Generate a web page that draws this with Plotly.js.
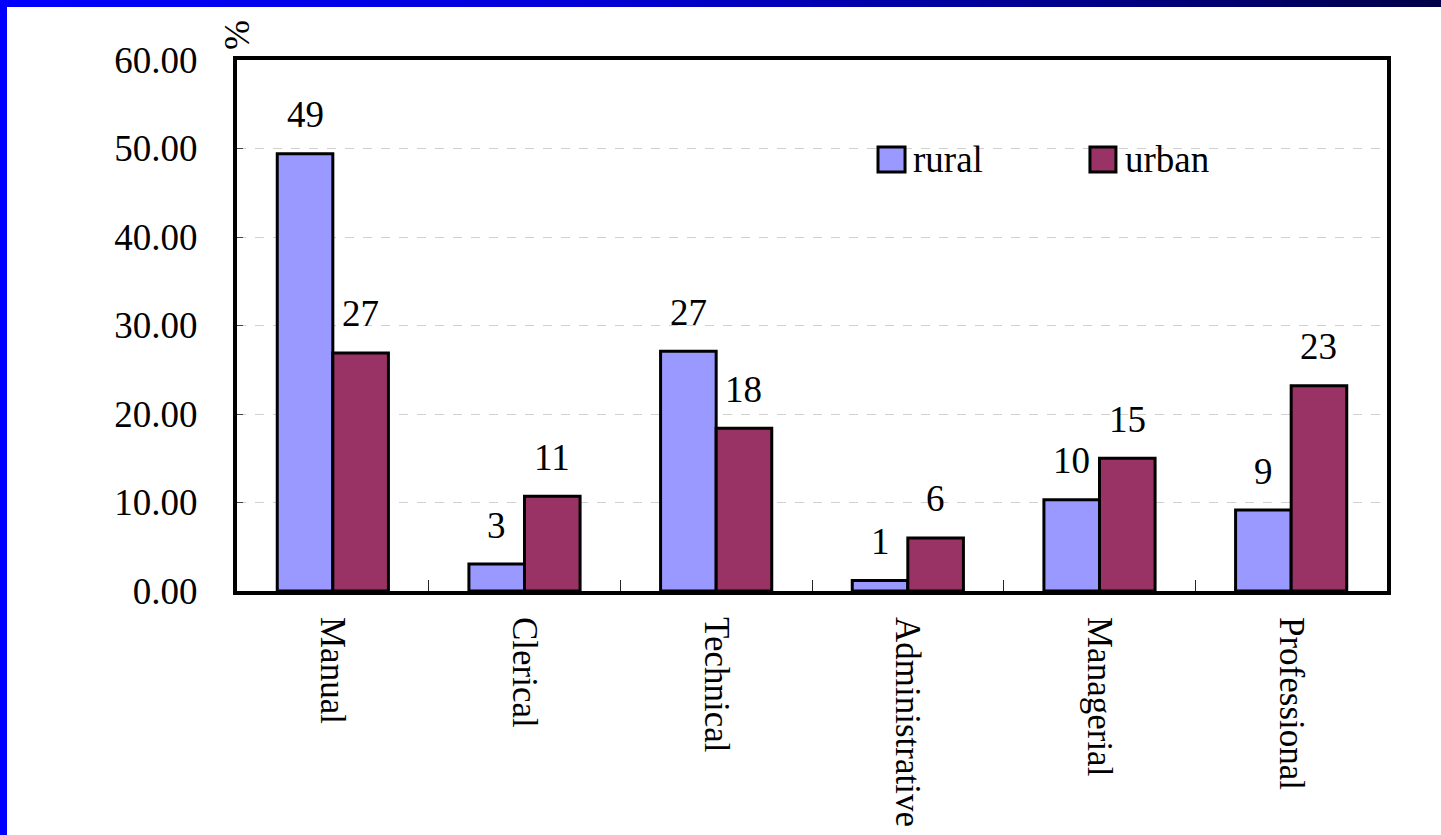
<!DOCTYPE html>
<html>
<head>
<meta charset="utf-8">
<script src="https://cdn.plot.ly/plotly-3.0.1.min.js"></script>
<style>
  html, body { margin: 0; padding: 0; background: #ffffff; }
  #frame { position: relative; width: 1441px; height: 835px; overflow: hidden; background: #ffffff; }
  #topbar { position: absolute; left: 0; top: 0; width: 1441px; height: 7px;
            background: linear-gradient(to right, #0000ff 0%, #0000d8 40%, #00008a 75%, #000048 100%); z-index: 2; }
  #leftbar { position: absolute; left: 0; top: 0; width: 7px; height: 835px; background: #0000ff; z-index: 2; }
  #chart { position: absolute; left: 0; top: 0; width: 1441px; height: 835px; }
</style>
</head>
<body>
<div id="frame">
  <div id="chart"></div>
  <div id="topbar"></div>
  <div id="leftbar"></div>
</div>
<script>
const categories = ["Manual", "Clerical", "Technical", "Administrative", "Managerial", "Professional"];
const seriesNames = ["rural", "urban"];
const ruralValues = [49.4, 3.05, 27.1, 1.2, 10.3, 9.15];
const urbanValues = [26.9, 10.7, 18.4, 6.0, 15.0, 23.2];
const ruralLabels = ["49", "3", "27", "1", "10", "9"];
const urbanLabels = ["27", "11", "18", "6", "15", "23"];
const yTickValues = [0, 10, 20, 30, 40, 50, 60];

const ruralColor = "#9999ff";
const urbanColor = "#993366";
const fontFamily = "'Liberation Serif', 'Times New Roman', serif";
const fontSize = 37;
const xFontSize = 35;

const traces = [
  {
    type: "bar", name: seriesNames[0], x: categories, y: ruralValues,
    marker: { color: ruralColor, line: { color: "#000000", width: 3 } },
    showlegend: false, hoverinfo: "x+y"
  },
  {
    type: "bar", name: seriesNames[1], x: categories, y: urbanValues,
    marker: { color: urbanColor, line: { color: "#000000", width: 3 } },
    showlegend: false, hoverinfo: "x+y"
  }
];

const barOffset = 0.145;
const annotations = [];
categories.forEach((c, i) => {
  annotations.push({ x: i - barOffset, y: ruralValues[i], xref: "x", yref: "y", text: ruralLabels[i],
    showarrow: false, yanchor: "middle", yshift: 39, font: { family: fontFamily, size: fontSize, color: "#000" } });
  annotations.push({ x: i + barOffset, y: urbanValues[i], xref: "x", yref: "y", text: urbanLabels[i],
    showarrow: false, yanchor: "middle", yshift: 39, font: { family: fontFamily, size: fontSize, color: "#000" } });
});
// y-axis unit
annotations.push({ x: 0, y: 1.047, xref: "paper", yref: "paper", text: "%", textangle: -90,
  showarrow: false, xanchor: "center", yanchor: "middle", font: { family: fontFamily, size: 36, color: "#000" } });
// legend texts
annotations.push({ x: 0.586, y: 0.8117, xref: "paper", yref: "paper", text: seriesNames[0],
  showarrow: false, xanchor: "left", yanchor: "middle", font: { family: fontFamily, size: fontSize, color: "#000" } });
annotations.push({ x: 0.7705, y: 0.8117, xref: "paper", yref: "paper", text: seriesNames[1],
  showarrow: false, xanchor: "left", yanchor: "middle", font: { family: fontFamily, size: fontSize, color: "#000" } });

const shapes = [
  { type: "rect", xref: "paper", yref: "paper", x0: 0.5087, x1: 0.8939, y0: 0.783, y1: 0.859,
    fillcolor: "#ffffff", line: { width: 0 }, layer: "between" },
  { type: "rect", xref: "paper", yref: "paper", x0: 0.5574, x1: 0.5809, y0: 0.789, y1: 0.836,
    fillcolor: ruralColor, line: { color: "#000", width: 3 }, layer: "above" },
  { type: "rect", xref: "paper", yref: "paper", x0: 0.7417, x1: 0.7643, y0: 0.789, y1: 0.836,
    fillcolor: urbanColor, line: { color: "#000", width: 3 }, layer: "above" }
];

const layout = {
  width: 1441, height: 835,
  margin: { l: 237, r: 54, t: 60, b: 244, pad: 0 },
  paper_bgcolor: "#ffffff", plot_bgcolor: "#ffffff",
  font: { family: fontFamily, size: fontSize, color: "#000000" },
  barmode: "group", bargap: 0.42, bargroupgap: 0,
  showlegend: false,
  xaxis: {
    type: "category", tickangle: 90,
    showline: true, linecolor: "#000", linewidth: 4, mirror: true,
    ticks: "inside", tickson: "boundaries", ticklen: 11, tickwidth: 1, tickcolor: "#222",
    ticklabelstandoff: 15,
    tickfont: { family: fontFamily, size: xFontSize, color: "#000" },
    showgrid: false, zeroline: false, fixedrange: true
  },
  yaxis: {
    range: [0, 60], tickvals: yTickValues, tickformat: ".2f",
    showline: true, linecolor: "#000", linewidth: 4, mirror: true,
    ticks: "inside", ticklen: 6, tickwidth: 1, tickcolor: "#444",
    ticklabelstandoff: 28,
    tickfont: { family: fontFamily, size: fontSize, color: "#000" },
    showgrid: true, gridcolor: "#d0d0d0", gridwidth: 1, griddash: "dash",
    zeroline: false, fixedrange: true
  },
  annotations: annotations,
  shapes: shapes
};

Plotly.newPlot("chart", traces, layout, { displayModeBar: false, staticPlot: true });
</script>
</body>
</html>
